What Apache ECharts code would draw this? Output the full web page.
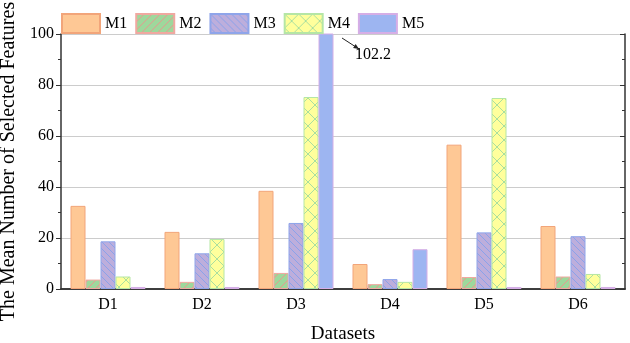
<!DOCTYPE html>
<html>
<head>
<meta charset="utf-8">
<script src="https://cdn.jsdelivr.net/npm/echarts@6/dist/echarts.min.js"></script>
<style>
    html, body, #main {
        width: 100%;
        height: 100%;
        margin: 0;
    }
</style>
</head>
<body>
<div id="main"></div>
<script>
    var categories = ['D1', 'D2', 'D3', 'D4', 'D5', 'D6'];
    var m1 = [32.6, 22.4, 38.5, 9.8, 56.6, 24.7];
    var m2 = [3.7, 2.8, 6.3, 1.9, 4.7, 4.9];
    var m3 = [18.7, 14.0, 25.9, 3.9, 22.2, 20.7];
    var m4 = [4.9, 19.6, 75.3, 2.8, 74.9, 5.9];
    var m5 = [0.8, 0.8, 102.2, 15.6, 0.8, 0.8];
    var yTicks = [0, 20, 40, 60, 80, 100];

    var font = '"Liberation Serif", "Times New Roman", serif';

    function hatch(bg, fg, step, dirs) {
        var c = document.createElement('canvas');
        c.width = step; c.height = step;
        var ctx = c.getContext('2d');
        ctx.fillStyle = bg;
        ctx.fillRect(0, 0, step, step);
        ctx.strokeStyle = fg;
        ctx.lineWidth = 1;
        dirs.forEach(function (d) {
            ctx.beginPath();
            if (d === '/') {
                ctx.moveTo(0, step); ctx.lineTo(step, 0);
                ctx.moveTo(-step, step); ctx.lineTo(step, -step);
                ctx.moveTo(0, 2 * step); ctx.lineTo(2 * step, 0);
            } else {
                ctx.moveTo(0, 0); ctx.lineTo(step, step);
                ctx.moveTo(-step, 0); ctx.lineTo(step, 2 * step);
                ctx.moveTo(0, -step); ctx.lineTo(2 * step, step);
            }
            ctx.stroke();
        });
        return {image: c, repeat: 'repeat'};
    }

    var chart = echarts.init(document.getElementById('main'));

    function bar(name, data, color, border) {
        return {
            name: name,
            type: 'bar',
            data: data,
            barWidth: 15,
            barGap: '0%',
            itemStyle: {color: color, borderColor: border, borderWidth: 1}
        };
    }

    chart.setOption({
        animation: false,
        textStyle: {fontFamily: font},
        legend: {
            left: 56,
            top: 8,
            icon: 'rect',
            itemWidth: 38,
            itemHeight: 19,
            itemGap: 8,
            textStyle: {fontFamily: font, fontSize: 16, color: '#000'},
            data: ['M1', 'M2', 'M3', 'M4', 'M5']
        },
        grid: {left: 61, right: 5, top: 34, bottom: 54, containLabel: false, outerBoundsMode: 'none'},
        xAxis: [{
            type: 'category',
            data: categories,
            name: 'Datasets',
            nameLocation: 'middle',
            nameGap: 36,
            nameTextStyle: {fontFamily: font, fontSize: 19, color: '#000'},
            axisLine: {lineStyle: {color: '#333', width: 1.5}},
            axisTick: {alignWithLabel: true, length: 5, lineStyle: {color: '#333'}},
            axisLabel: {fontFamily: font, fontSize: 16, color: '#000', margin: 8}
        }, {
            type: 'category',
            data: categories,
            position: 'top',
            axisLine: {lineStyle: {color: '#333', width: 1.5}},
            axisTick: {alignWithLabel: true, inside: true, length: 5, lineStyle: {color: '#333'}},
            axisLabel: {show: false}
        }],
        yAxis: [{
            type: 'value',
            min: 0,
            max: 100,
            interval: 20,
            name: 'The Mean Number of Selected Features',
            nameLocation: 'middle',
            nameGap: 39,
            nameTextStyle: {fontFamily: font, fontSize: 20, color: '#000'},
            axisLine: {show: true, lineStyle: {color: '#333', width: 1.5}},
            axisTick: {show: true, length: 5, lineStyle: {color: '#333'}},
            minorTick: {show: true, splitNumber: 2, length: 3, lineStyle: {color: '#333'}},
            axisLabel: {
                fontFamily: font, fontSize: 16, color: '#000', margin: 7,
                formatter: function (v) { return yTicks.indexOf(v) >= 0 ? v : ''; }
            },
            splitLine: {lineStyle: {color: '#ccc'}}
        }, {
            type: 'value',
            min: 0,
            max: 100,
            interval: 20,
            position: 'right',
            axisLine: {show: true, lineStyle: {color: '#333', width: 1.5}},
            axisTick: {show: true, inside: true, length: 5, lineStyle: {color: '#333'}},
            minorTick: {show: true, splitNumber: 2, length: 3, lineStyle: {color: '#333'}},
            axisLabel: {show: false},
            splitLine: {show: false}
        }],
        series: [
            bar('M1', m1, '#FEC895', '#F2A57A'),
            bar('M2', m2, hatch('#9ED89C', '#E8998E', 8, ['/']), '#F0A8A0'),
            bar('M3', m3, hatch('#BDAEDC', '#8AA2EA', 7, ['\\']), '#8FA5EA'),
            bar('M4', m4, hatch('#FFFF9C', '#A9DFA0', 14, ['/', '\\']), '#B5E6A5'),
            bar('M5', m5, '#9DB5F1', '#D6AEE6')
        ]
    });

    // annotation for the clipped M5 bar on D3
    var idx = m5.indexOf(Math.max.apply(null, m5));
    var p = chart.convertToPixel({xAxisIndex: 0, yAxisIndex: 0}, [idx, 100]);
    var sx = p[0] + 46, sy = p[1] + 4, ex = p[0] + 63, ey = p[1] + 15;
    var ang = Math.atan2(ey - sy, ex - sx);
    chart.setOption({
        graphic: [{
            type: 'line',
            shape: {x1: sx, y1: sy, x2: ex, y2: ey},
            style: {stroke: '#222', lineWidth: 1}
        }, {
            type: 'polygon',
            shape: {points: [
                [ex, ey],
                [ex - 6 * Math.cos(ang - 0.4), ey - 6 * Math.sin(ang - 0.4)],
                [ex - 6 * Math.cos(ang + 0.4), ey - 6 * Math.sin(ang + 0.4)]
            ]},
            style: {fill: '#222'}
        }, {
            type: 'text',
            x: p[0] + 59,
            y: p[1] + 13,
            style: {text: String(m5[idx]), font: '16px ' + font, fill: '#000'}
        }]
    });
</script>
</body>
</html>
